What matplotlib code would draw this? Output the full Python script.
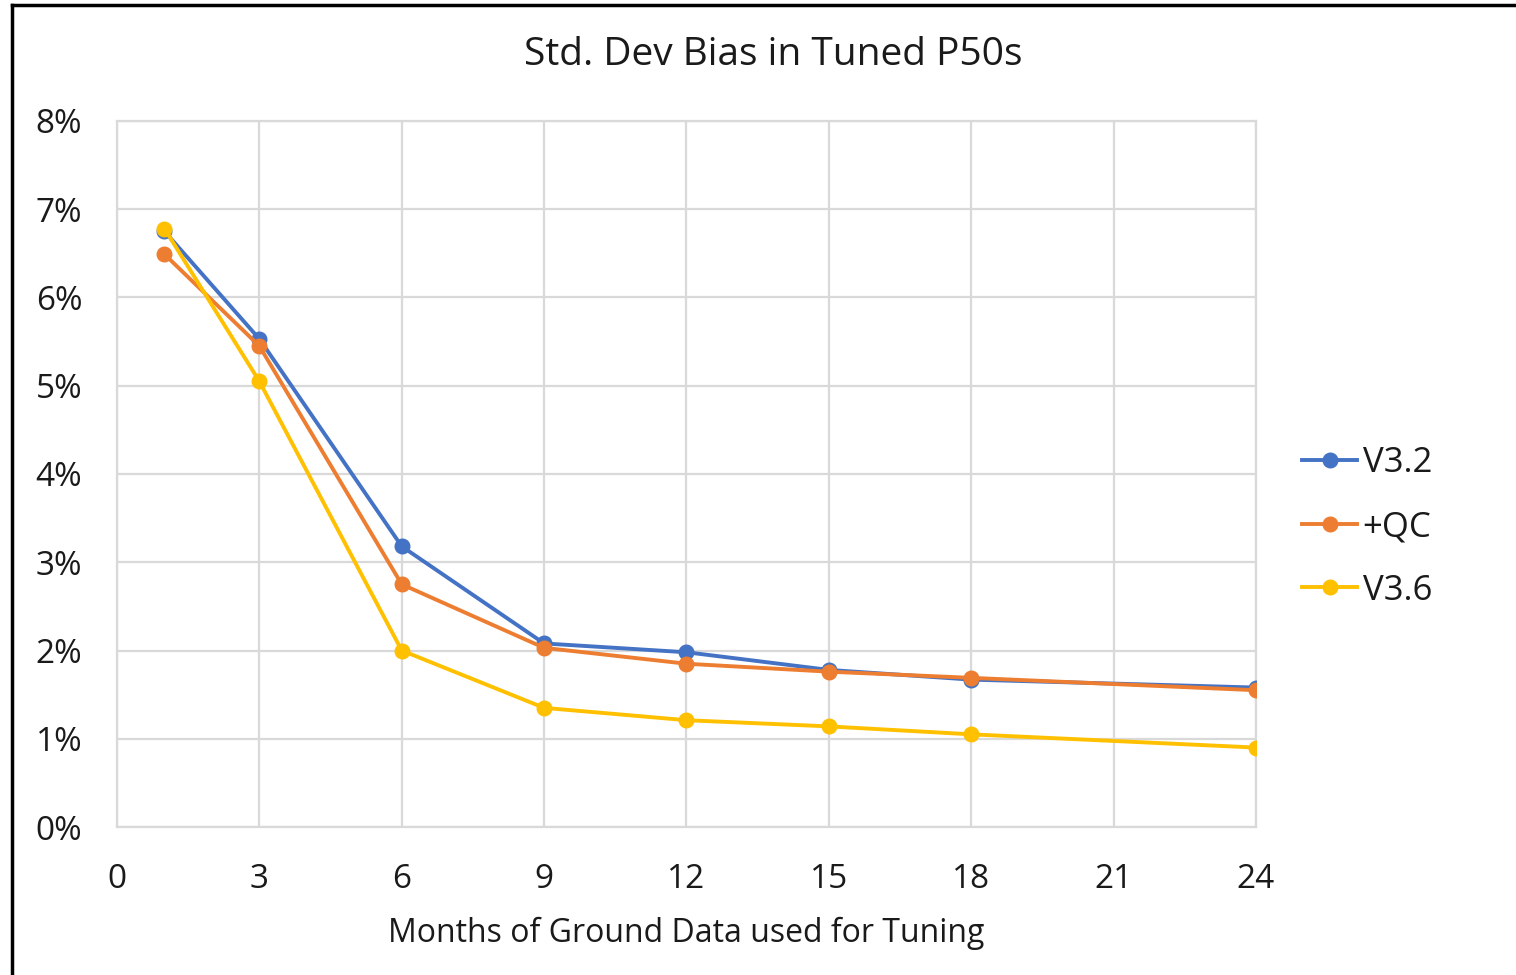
import matplotlib.pyplot as plt
from matplotlib.lines import Line2D
from matplotlib.ticker import FuncFormatter

plt.rcParams['font.family'] = ['Open Sans', 'DejaVu Sans']

# data (std dev bias, percent)
months = [1, 3, 6, 9, 12, 15, 18, 24]
v32 = [6.75, 5.53, 3.18, 2.08, 1.98, 1.78, 1.67, 1.58]
qc = [6.49, 5.45, 2.75, 2.03, 1.85, 1.76, 1.69, 1.55]
v36 = [6.78, 5.05, 2.00, 1.35, 1.21, 1.14, 1.05, 0.90]
series_names = ["V3.2", "+QC", "V3.6"]
colors = ["#4472C4", "#ED7D31", "#FFC000"]
x_ticks = [0, 3, 6, 9, 12, 15, 18, 21, 24]

fig = plt.figure(figsize=(15.16, 9.75), dpi=100)
ax = fig.add_axes([117 / 1516, 1 - 827 / 975, (1256 - 117) / 1516, (827 - 121) / 975])

for vals, name, c in zip([v32, qc, v36], series_names, colors):
    ax.plot(months, vals, color=c, lw=2.8, marker='o', ms=10.5, label=name, zorder=3)

ax.set_xlim(0, 24)
ax.set_ylim(0, 8)
ax.set_xticks(x_ticks)
ax.set_yticks(range(0, 9))
ax.yaxis.set_major_formatter(FuncFormatter(lambda v, p: f"{int(v)}%"))
ax.grid(True, color='#D9D9D9', lw=1.6, zorder=0)
for s in ax.spines.values():
    s.set_color('#D9D9D9')
    s.set_linewidth(1.6)
ax.tick_params(length=0, labelsize=24, colors='#1a1a1a')
ax.tick_params(axis='x', pad=26)
ax.tick_params(axis='y', pad=25)

ax.set_xlabel("Months of Ground Data used for Tuning", fontsize=23, labelpad=15, color='#1a1a1a')
fig.text(773 / 1516, 1 - 55 / 975, "Std. Dev Bias in Tuned P50s", fontsize=28,
         ha='center', va='center', color='#1a1a1a')

handles = [Line2D([], [], color=c, lw=2.8, marker='o', ms=10.5) for c in colors]
fig.legend(handles, series_names, loc='center left', bbox_to_anchor=(1288 / 1516, 1 - 527 / 975),
           frameon=False, fontsize=25, handlelength=1.6, handletextpad=0.15, labelspacing=0.85,
           borderaxespad=0, labelcolor='#1a1a1a')

# outer chart border (left and top edges visible)
fig.add_artist(Line2D([12 / 1516, 12 / 1516], [0, 1 - 5 / 975], color='black', lw=2.5,
                      transform=fig.transFigure))
fig.add_artist(Line2D([12 / 1516, 1], [1 - 5 / 975, 1 - 5 / 975], color='black', lw=2.5,
                      transform=fig.transFigure))

fig.savefig("out.png", dpi=100)
